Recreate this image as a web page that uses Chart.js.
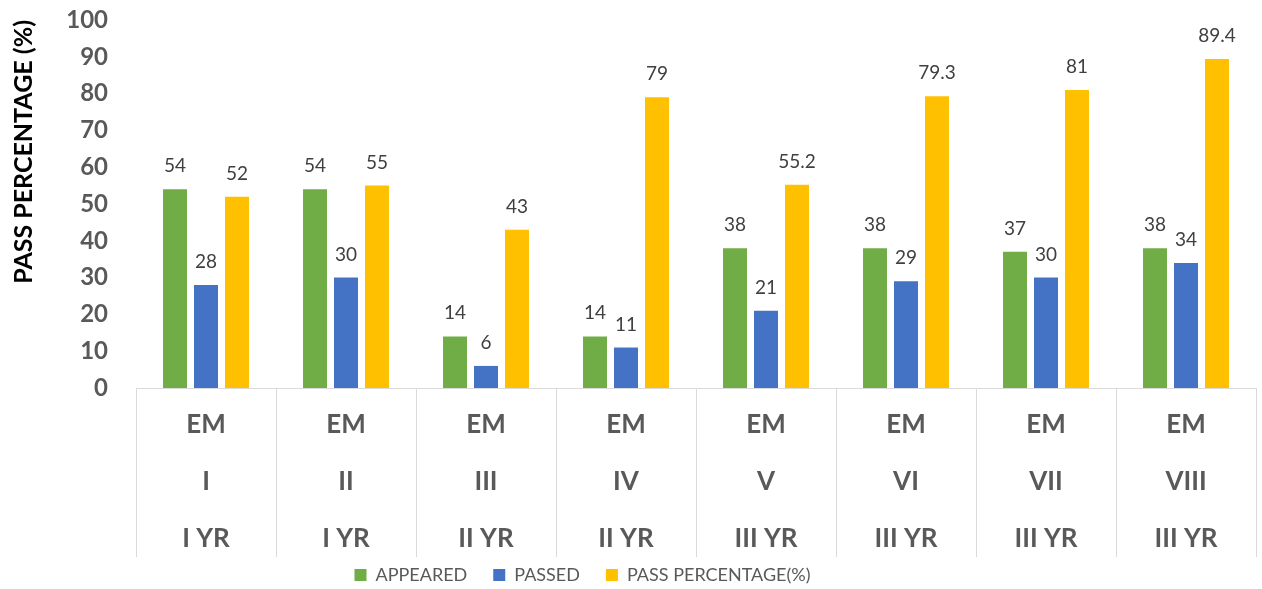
<!DOCTYPE html>
<html>
<head>
<meta charset="utf-8">
<script src="https://cdn.jsdelivr.net/npm/chart.js@4"></script>
<style>
  html, body { margin: 0; padding: 0; background: #ffffff; }
  #wrap { width: 1262px; height: 589px; }
</style>
</head>
<body>
<div id="wrap"><canvas id="c" width="1262" height="589"></canvas></div>
<script>
const levelType = ['EM', 'EM', 'EM', 'EM', 'EM', 'EM', 'EM', 'EM'];
const semesters = ['I', 'II', 'III', 'IV', 'V', 'VI', 'VII', 'VIII'];
const years = ['I YR', 'I YR', 'II YR', 'II YR', 'III YR', 'III YR', 'III YR', 'III YR'];
const appeared = [54, 54, 14, 14, 38, 38, 37, 38];
const passed = [28, 30, 6, 11, 21, 29, 30, 34];
const passPercentage = [52, 55, 43, 79, 55.2, 79.3, 81, 89.4];
const yTicks = [0, 10, 20, 30, 40, 50, 60, 70, 80, 90, 100];

const labels = semesters.map((s, i) => [levelType[i], s, years[i]]);

const valueLabels = {
  id: 'valueLabels',
  afterDatasetsDraw(chart) {
    const ctx = chart.ctx;
    ctx.save();
    ctx.font = '19px Lato';
    ctx.fillStyle = '#404040';
    ctx.textAlign = 'center';
    ctx.textBaseline = 'alphabetic';
    chart.data.datasets.forEach((ds, di) => {
      const meta = chart.getDatasetMeta(di);
      meta.data.forEach((el, i) => {
        ctx.fillText(String(ds.data[i]), el.x, el.y - 17);
      });
    });
    ctx.restore();
  }
};

const legendShift = {
  id: 'legendShift',
  afterLayout(chart) {
    const lg = chart.legend;
    if (lg) {
      lg.left -= 45.5;
      lg.right -= 45.5;
      lg.top -= 17;
      lg.bottom -= 17;
    }
  }
};

new Chart(document.getElementById('c'), {
  type: 'bar',
  data: {
    labels: labels,
    datasets: [
      { label: 'APPEARED', data: appeared, backgroundColor: '#70AD47' },
      { label: 'PASSED', data: passed, backgroundColor: '#4472C4' },
      { label: 'PASS PERCENTAGE(%)', data: passPercentage, backgroundColor: '#FFC000' }
    ]
  },
  options: {
    responsive: false,
    animation: false,
    devicePixelRatio: 1,
    layout: { padding: { top: 0, right: 6, left: 0, bottom: -22 } },
    datasets: { bar: { categoryPercentage: 0.664, barPercentage: 0.774 } },
    plugins: {
      legend: {
        position: 'bottom',
        labels: {
          font: { family: 'Lato', size: 18 },
          color: '#595959',
          boxWidth: 12,
          boxHeight: 12,
          padding: 26
        }
      },
      tooltip: { enabled: false }
    },
    scales: {
      x: {
        grid: { display: true, drawOnChartArea: false, drawTicks: true, tickLength: 169, color: '#d9d9d9', lineWidth: 1, offset: true },
        border: { display: true, color: '#d9d9d9' },
        ticks: {
          font: { family: 'Lato', size: 26, weight: 'bold', lineHeight: 2.19 },
          color: '#595959',
          padding: -160.5,
          maxRotation: 0,
          autoSkip: false
        },
        afterFit(s) { s.height = 169; }
      },
      y: {
        min: 0,
        max: 100,
        afterBuildTicks(s) { s.ticks = yTicks.map(v => ({ value: v })); },
        grid: { display: false, drawTicks: false },
        border: { display: false },
        ticks: {
          font: { family: 'Lato', size: 24, weight: 'bold' },
          color: '#595959',
          padding: 28
        },
        title: {
          display: true,
          text: 'PASS PERCENTAGE (%)',
          align: 'end',
          font: { family: 'Lato', size: 25, weight: 'bold', lineHeight: 1.2 },
          color: '#000000',
          padding: { top: 9, bottom: 0 }
        },
        afterFit(s) {
          s.width = 136;
          s.paddingTop = 20;
          s.paddingBottom = 0;
        }
      }
    }
  },
  plugins: [valueLabels, legendShift]
});
</script>
</body>
</html>
